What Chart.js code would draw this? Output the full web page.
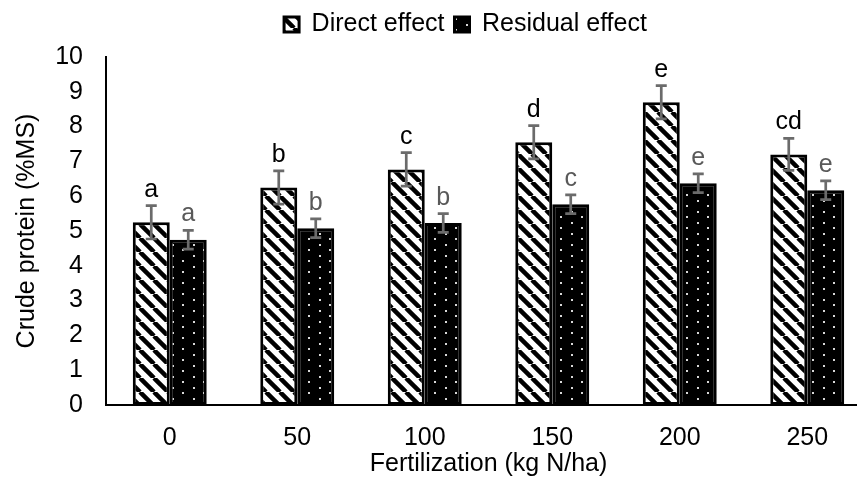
<!DOCTYPE html>
<html>
<head>
<meta charset="utf-8">
<script src="https://cdn.jsdelivr.net/npm/chart.js@4/dist/chart.umd.min.js"></script>
<style>
  html, body { margin: 0; padding: 0; background: #fff; overflow: hidden; }
  #wrap { width: 871px; height: 479px; }
</style>
</head>
<body>
<div id="wrap"><canvas id="proteinChart" width="871" height="479"></canvas></div>
<script>
const categories = ["0", "50", "100", "150", "200", "250"]
const directValues = [5.25, 6.25, 6.77, 7.55, 8.7, 7.2]
const directErrors = [0.48, 0.48, 0.48, 0.48, 0.48, 0.46]
const directLetters = ["a", "b", "c", "d", "e", "cd"]
const residualValues = [4.75, 5.08, 5.23, 5.77, 6.37, 6.17]
const residualErrors = [0.27, 0.27, 0.27, 0.27, 0.27, 0.27]
const residualLetters = ["a", "b", "b", "c", "e", "e"]
const yTicks = [0, 1, 2, 3, 4, 5, 6, 7, 8, 9, 10]

const FONT = "'Liberation Sans', Arial, sans-serif"
const FONT_SIZE = 25

function stripePattern() {
  const s = 14
  const c = document.createElement("canvas")
  c.width = s
  c.height = s
  const g = c.getContext("2d")
  g.fillStyle = "#fff"
  g.fillRect(0, 0, s, s)
  g.strokeStyle = "#000"
  g.lineWidth = 4.5
  for (let k = -1; k <= 1; k++) {
    g.beginPath()
    g.moveTo(k * s, 0)
    g.lineTo(k * s + s, s)
    g.stroke()
  }
  return g.createPattern(c, "repeat")
}

function dotPattern() {
  const w = 21, h = 11
  const c = document.createElement("canvas")
  c.width = w
  c.height = h
  const g = c.getContext("2d")
  g.fillStyle = "#000"
  g.fillRect(0, 0, w, h)
  g.fillStyle = "#d8d8d8"
  g.fillRect(4, 2, 2, 2)
  g.fillRect(14, 7, 2, 2)
  return g.createPattern(c, "repeat")
}

// error bars + significance letters, placed from the bar elements and y scale
const annotations = {
  id: "annotations",
  afterDatasetsDraw(chart) {
    const { ctx } = chart
    const y = chart.scales.y
    const sets = [
      { values: directValues, errors: directErrors, letters: directLetters, color: "#000" },
      { values: residualValues, errors: residualErrors, letters: residualLetters, color: "#595959" }
    ]
    ctx.save()
    sets.forEach((set, i) => {
      const meta = chart.getDatasetMeta(i)
      meta.data.forEach((bar, j) => {
        const top = y.getPixelForValue(set.values[j] + set.errors[j])
        const bottom = y.getPixelForValue(set.values[j] - set.errors[j])
        ctx.strokeStyle = "#6b6b6b"
        ctx.lineWidth = 2.7
        ctx.beginPath()
        ctx.moveTo(bar.x, top)
        ctx.lineTo(bar.x, bottom)
        ctx.moveTo(bar.x - 5.5, top)
        ctx.lineTo(bar.x + 5.5, top)
        ctx.moveTo(bar.x - 5.5, bottom)
        ctx.lineTo(bar.x + 5.5, bottom)
        ctx.stroke()

        ctx.fillStyle = set.color
        ctx.font = FONT_SIZE + "px " + FONT
        ctx.textAlign = "center"
        ctx.textBaseline = "alphabetic"
        ctx.fillText(set.letters[j], bar.x, top - 9)
      })
    })
    ctx.restore()
  }
}

// nudge the legend over the visible part of the plot and closer to the top edge
const legendShift = {
  id: "legendShift",
  afterLayout(chart) {
    chart.legend.left += 30
    chart.legend.right += 30
    chart.legend.top -= 10
    chart.legend.bottom -= 10
  }
}

const data = {
  labels: categories,
  datasets: [
    {
      label: "Direct effect",
      data: directValues,
      backgroundColor: stripePattern(),
      borderColor: "#000",
      borderWidth: 3,
      borderSkipped: false
    },
    {
      label: "Residual effect",
      data: residualValues,
      backgroundColor: dotPattern(),
      borderColor: "#000",
      borderWidth: 3,
      borderSkipped: false
    }
  ]
}

const config = {
  type: "bar",
  data: data,
  options: {
    responsive: false,
    animation: false,
    layout: { padding: { top: 12, left: 0, right: 0, bottom: 0 } },
    datasets: {
      bar: { categoryPercentage: 0.58, barPercentage: 1 }
    },
    scales: {
      x: {
        grid: { display: false, drawTicks: false },
        border: { color: "#000", width: 2 },
        ticks: { color: "#000", font: { size: FONT_SIZE, family: FONT }, padding: 18 },
        title: {
          display: true,
          text: "Fertilization (kg N/ha)",
          color: "#000",
          font: { size: FONT_SIZE, family: FONT },
          padding: { top: 0, bottom: 0 }
        },
        afterFit: scale => { scale.height = 74 }
      },
      y: {
        min: 0,
        max: 10,
        afterBuildTicks: scale => { scale.ticks = yTicks.map(v => ({ value: v })) },
        grid: { display: false, drawTicks: false },
        border: { color: "#000", width: 2 },
        ticks: { color: "#000", font: { size: FONT_SIZE, family: FONT }, padding: 23 },
        title: {
          display: true,
          text: "Crude protein (%MS)",
          color: "#000",
          font: { size: FONT_SIZE, family: FONT },
          padding: { top: 12, bottom: 0 }
        },
        afterFit: scale => { scale.width = 106 }
      }
    },
    plugins: {
      legend: {
        display: true,
        position: "top",
        labels: {
          color: "#000",
          font: { size: FONT_SIZE, family: FONT },
          boxWidth: 15,
          boxHeight: 15,
          padding: 10
        }
      },
      tooltip: { enabled: false }
    }
  },
  plugins: [annotations, legendShift]
}

new Chart(document.getElementById("proteinChart"), config)
</script>
</body>
</html>
